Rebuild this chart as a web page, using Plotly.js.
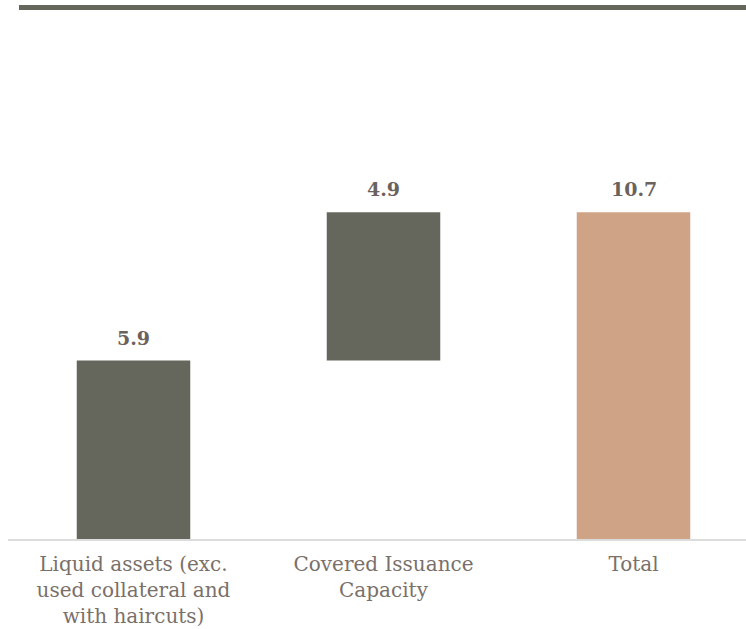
<!DOCTYPE html>
<html><head><meta charset="utf-8">
<script src="https://cdn.plot.ly/plotly-3.0.1.min.js"></script>
<style>html,body{margin:0;padding:0;background:#fff;}</style>
</head><body>
<div id="chart" style="width:746px;height:629px;"></div>
<script>
const categories = ["Liquid assets (exc.<br>used collateral and<br>with haircuts)", "Covered Issuance<br>Capacity", "Total"];
const measures = ["relative", "relative", "total"];
const values = [5.9, 4.9, 10.7];
const valueLabels = ["5.9", "4.9", "10.7"];

const trace = {
  type: "waterfall",
  x: categories,
  y: values,
  measure: measures,
  textposition: "none",
  connector: {visible: false},
  increasing: {marker: {color: "#66675c"}},
  decreasing: {marker: {color: "#66675c"}},
  totals: {marker: {color: "#cfa486"}},
  hoverinfo: "none"
};

// label positions follow the bar tops (running sum of the relative steps)
let running = 0;
const annotations = categories.map((c, i) => {
  if (measures[i] === "relative") running += values[i];
  return {
    x: c, y: running, xref: "x", yref: "y",
    text: valueLabels[i], showarrow: false,
    yanchor: "bottom", yshift: 10,
    font: {family: "DejaVu Serif", size: 19, color: "#6b625c", weight: "bold"}
  };
});

const layout = {
  width: 746, height: 629,
  margin: {l: 8, r: 0, t: 176, b: 90},
  paper_bgcolor: "#ffffff",
  plot_bgcolor: "#ffffff",
  showlegend: false,
  waterfallgap: 0.546,
  font: {family: "DejaVu Serif", color: "#7a706a"},
  xaxis: {
    range: [-0.502, 2.45],
    showgrid: false, zeroline: false,
    showline: true, linecolor: "#dcdcdc", linewidth: 2,
    ticks: "", ticklabelstandoff: 6,
    tickfont: {family: "DejaVu Serif", size: 20, color: "#7a706a"},
    fixedrange: true
  },
  yaxis: {
    range: [0, 12],
    showgrid: false, zeroline: false, showline: false,
    showticklabels: false, ticks: "", fixedrange: true
  },
  annotations: annotations,
  shapes: [{
    type: "line", xref: "paper", yref: "paper",
    x0: 0.0149, x1: 1.0, y0: 1.464, y1: 1.464,
    line: {color: "#66675c", width: 5}
  }]
};

Plotly.newPlot("chart", [trace], layout, {displayModeBar: false, staticPlot: true});
</script>
</body></html>
